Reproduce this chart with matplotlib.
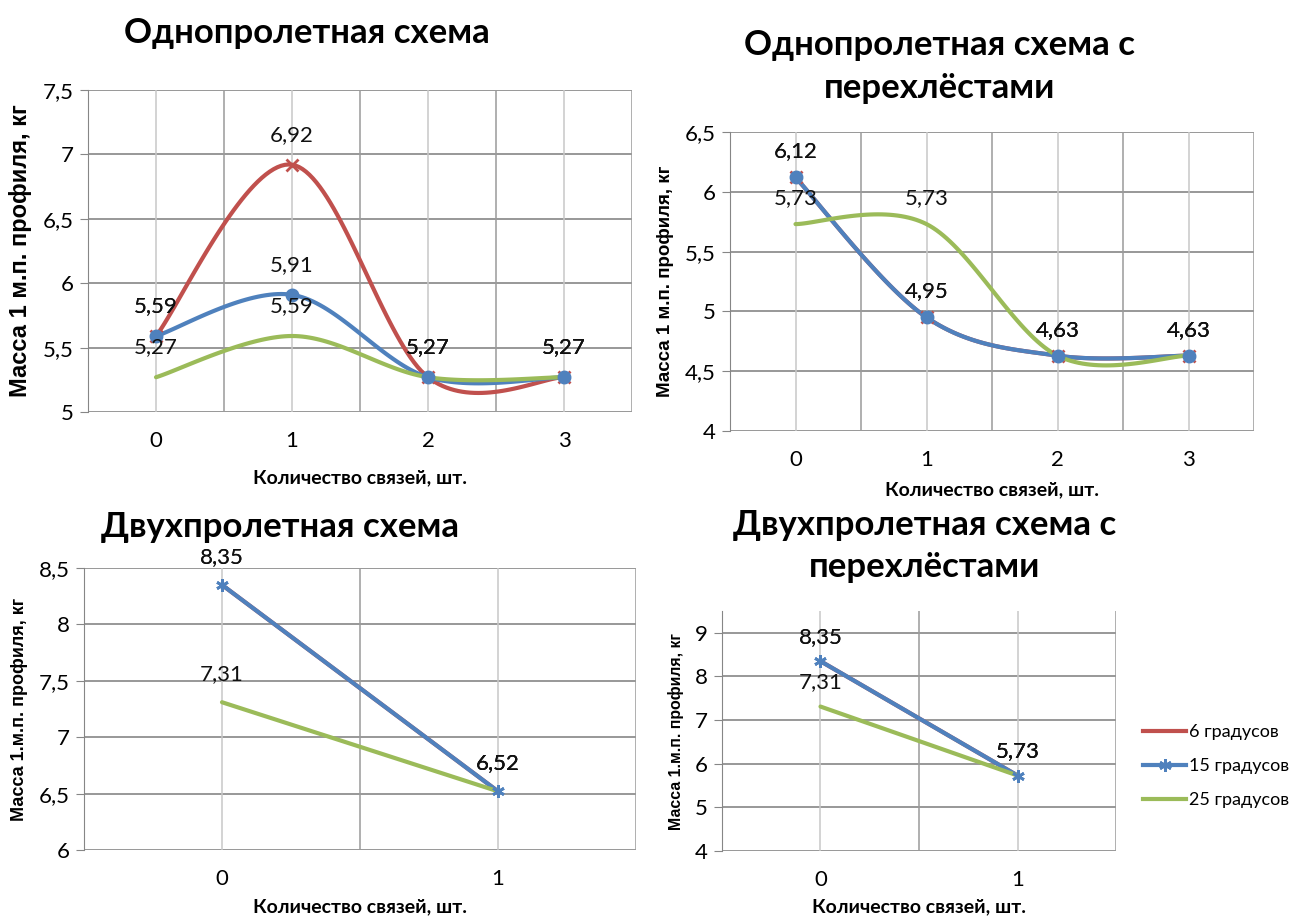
import numpy as np
import matplotlib
matplotlib.use("Agg")
import matplotlib.pyplot as plt
from matplotlib.lines import Line2D

# series names
names = ["6 градусов", "15 градусов", "25 градусов"]
colors = ["#C0504D", "#4F81BD", "#9BBB59"]

# Однопролетная схема
one_x = [0, 1, 2, 3]
one_6 = [5.59, 6.92, 5.27, 5.27]
one_15 = [5.59, 5.91, 5.27, 5.27]
one_25 = [5.27, 5.59, 5.27, 5.27]

# Однопролетная схема с перехлёстами
oneo_x = [0, 1, 2, 3]
oneo_6 = [6.12, 4.95, 4.63, 4.63]
oneo_15 = [6.12, 4.95, 4.63, 4.63]
oneo_25 = [5.73, 5.73, 4.63, 4.63]

# Двухпролетная схема
two_x = [0, 1]
two_6 = [8.35, 6.52]
two_15 = [8.35, 6.52]
two_25 = [7.31, 6.52]

# Двухпролетная схема с перехлёстами
twoo_x = [0, 1]
twoo_6 = [8.35, 5.73]
twoo_15 = [8.35, 5.73]
twoo_25 = [7.31, 5.73]

NARROW = ["Lato", "DejaVu Sans"]
W, H = 1290, 916


def px(x, y):
    return x / W, 1 - y / H


def smooth(xs, ys, n=40):
    # Excel-like smoothed line (cubic Bezier through the points)
    p = np.column_stack([xs, ys]).astype(float)
    if len(p) < 3:
        return p[:, 0], p[:, 1]
    pad = np.vstack([p[0], p, p[-1]])
    out = []
    t = np.linspace(0, 1, n)[:, None]
    for i in range(len(p) - 1):
        p0, p1 = p[i], p[i + 1]
        c1 = p0 + (pad[i + 2] - pad[i]) / 6
        c2 = p1 - (pad[i + 3] - pad[i + 1]) / 6
        seg = (1 - t) ** 3 * p0 + 3 * (1 - t) ** 2 * t * c1 + 3 * (1 - t) * t ** 2 * c2 + t ** 3 * p1
        out.append(seg)
    seg = np.vstack(out)
    return seg[:, 0], seg[:, 1]


def setup(ax, xs, ylo, yhi, yticks, ylabel, ylsize, xlab_y):
    ax.set_xlim(-0.5, len(xs) - 0.5)
    ax.set_ylim(ylo, yhi)
    for s in ["top", "right", "bottom"]:
        ax.spines[s].set_visible(False)
    ax.spines["left"].set_color("#868686")
    for yv in yticks:
        ax.axhline(yv, color="#868686", lw=1.2, zorder=0)
    for xv in np.arange(-0.5, len(xs), 1.0):
        ax.axvline(xv, color="#9a9a9a", lw=1.1, zorder=0)
    for xv in xs:
        ax.axvline(xv, color="#c8c8c8", lw=1.1, zorder=0)
    ax.set_yticks(yticks)
    ax.set_yticklabels([f"{v:g}".replace(".", ",") for v in yticks])
    ax.set_xticks(xs)
    ax.set_xticklabels([str(v) for v in xs])
    ax.tick_params(axis="y", length=6, color="#868686", pad=4)
    ax.tick_params(axis="x", length=0, pad=14)
    for lab in ax.get_xticklabels() + ax.get_yticklabels():
        lab.set_family(NARROW)
        lab.set_fontsize(16)
    # x label placed at its pixel row
    bb = ax.get_position()
    fig.text(bb.x0 + bb.width / 2, 1 - xlab_y / H, "Количество связей, шт.",
             family=NARROW, fontsize=14, fontweight="bold",
             ha="center", va="center")
    ax.set_ylabel(ylabel, family="Liberation Sans", fontsize=ylsize,
                  fontweight="bold", labelpad=8)


def series(ax, xs, ys, color, marker=None, ms=8, ofs=30):
    sx, sy = smooth(xs, ys)
    ax.plot(sx, sy, color=color, lw=3, solid_capstyle="round", zorder=3)
    if marker is not None:
        ax.plot(xs, ys, ls="none", marker=marker, ms=ms, color=color,
                mew=2, zorder=4)
    for x, v in zip(xs, ys):
        ax.annotate(f"{v:.2f}".replace(".", ","), xy=(x, v), xytext=(0, ofs),
                    textcoords="offset pixels", ha="center", va="center",
                    family=NARROW, fontsize=16, color="#111111", zorder=5)


fig = plt.figure(figsize=(12.9, 9.16), dpi=100)
fig.patch.set_facecolor("white")

star = (6, 2, 0)

# top-left
ax1 = fig.add_axes([88 / W, 1 - 412 / H, 544 / W, 322 / H])
setup(ax1, one_x, 5, 7.5, [5, 5.5, 6, 6.5, 7, 7.5],
      "Масса 1 м.п. профиля, кг", 17, 478)
series(ax1, one_x, one_6, colors[0], marker="x", ms=8)
series(ax1, one_x, one_15, colors[1], marker="o", ms=8)
series(ax1, one_x, one_25, colors[2])

# top-right
ax2 = fig.add_axes([730 / W, 1 - 431 / H, 524 / W, 299 / H])
setup(ax2, oneo_x, 4, 6.5, [4, 4.5, 5, 5.5, 6, 6.5],
      "Масса 1 м.п. профиля, кг", 13.5, 490)
series(ax2, oneo_x, oneo_6, colors[0], marker="x", ms=8, ofs=26)
series(ax2, oneo_x, oneo_15, colors[1], marker="o", ms=8, ofs=26)
series(ax2, oneo_x, oneo_25, colors[2], ofs=26)

# bottom-left
ax3 = fig.add_axes([84 / W, 1 - 850 / H, 552 / W, 282 / H])
setup(ax3, two_x, 6, 8.5, [6, 6.5, 7, 7.5, 8, 8.5],
      "Масса 1.м.п. профиля, кг", 13, 907)
series(ax3, two_x, two_6, colors[0], ofs=28)
series(ax3, two_x, two_15, colors[1], marker=star, ms=9, ofs=28)
series(ax3, two_x, two_25, colors[2], ofs=28)

# bottom-right
ax4 = fig.add_axes([722 / W, 1 - 851 / H, 394 / W, 240 / H])
setup(ax4, twoo_x, 4, 9.5, [4, 5, 6, 7, 8, 9],
      "Масса 1.м.п. профиля, кг", 11.4, 907)
series(ax4, twoo_x, twoo_6, colors[0], ofs=24)
series(ax4, twoo_x, twoo_15, colors[1], marker=star, ms=9, ofs=24)
series(ax4, twoo_x, twoo_25, colors[2], ofs=24)

# titles
tkw = dict(family=NARROW, fontweight="bold", fontsize=25, ha="center", va="center")
fig.text(*px(307, 33), "Однопролетная схема", **tkw)
fig.text(*px(940, 45), "Однопролетная схема с", **tkw)
fig.text(*px(940, 88), "перехлёстами", **tkw)
fig.text(*px(280, 527), "Двухпролетная схема", **tkw)
fig.text(*px(925, 525), "Двухпролетная схема с", **tkw)
fig.text(*px(925, 567), "перехлёстами", **tkw)

# legend
handles = [
    Line2D([], [], color=colors[0], lw=3),
    Line2D([], [], color=colors[1], lw=3, marker=star, ms=9, mew=2),
    Line2D([], [], color=colors[2], lw=3),
]
fig.legend(handles, names, loc="center left", bbox_to_anchor=px(1143, 766),
           frameon=False, borderaxespad=0, borderpad=0,
           handlelength=2.4, handletextpad=0.15,
           labelspacing=1.0, prop={"family": NARROW, "size": 13})

fig.savefig("out.png", dpi=100, facecolor="white")
plt.close(fig)
